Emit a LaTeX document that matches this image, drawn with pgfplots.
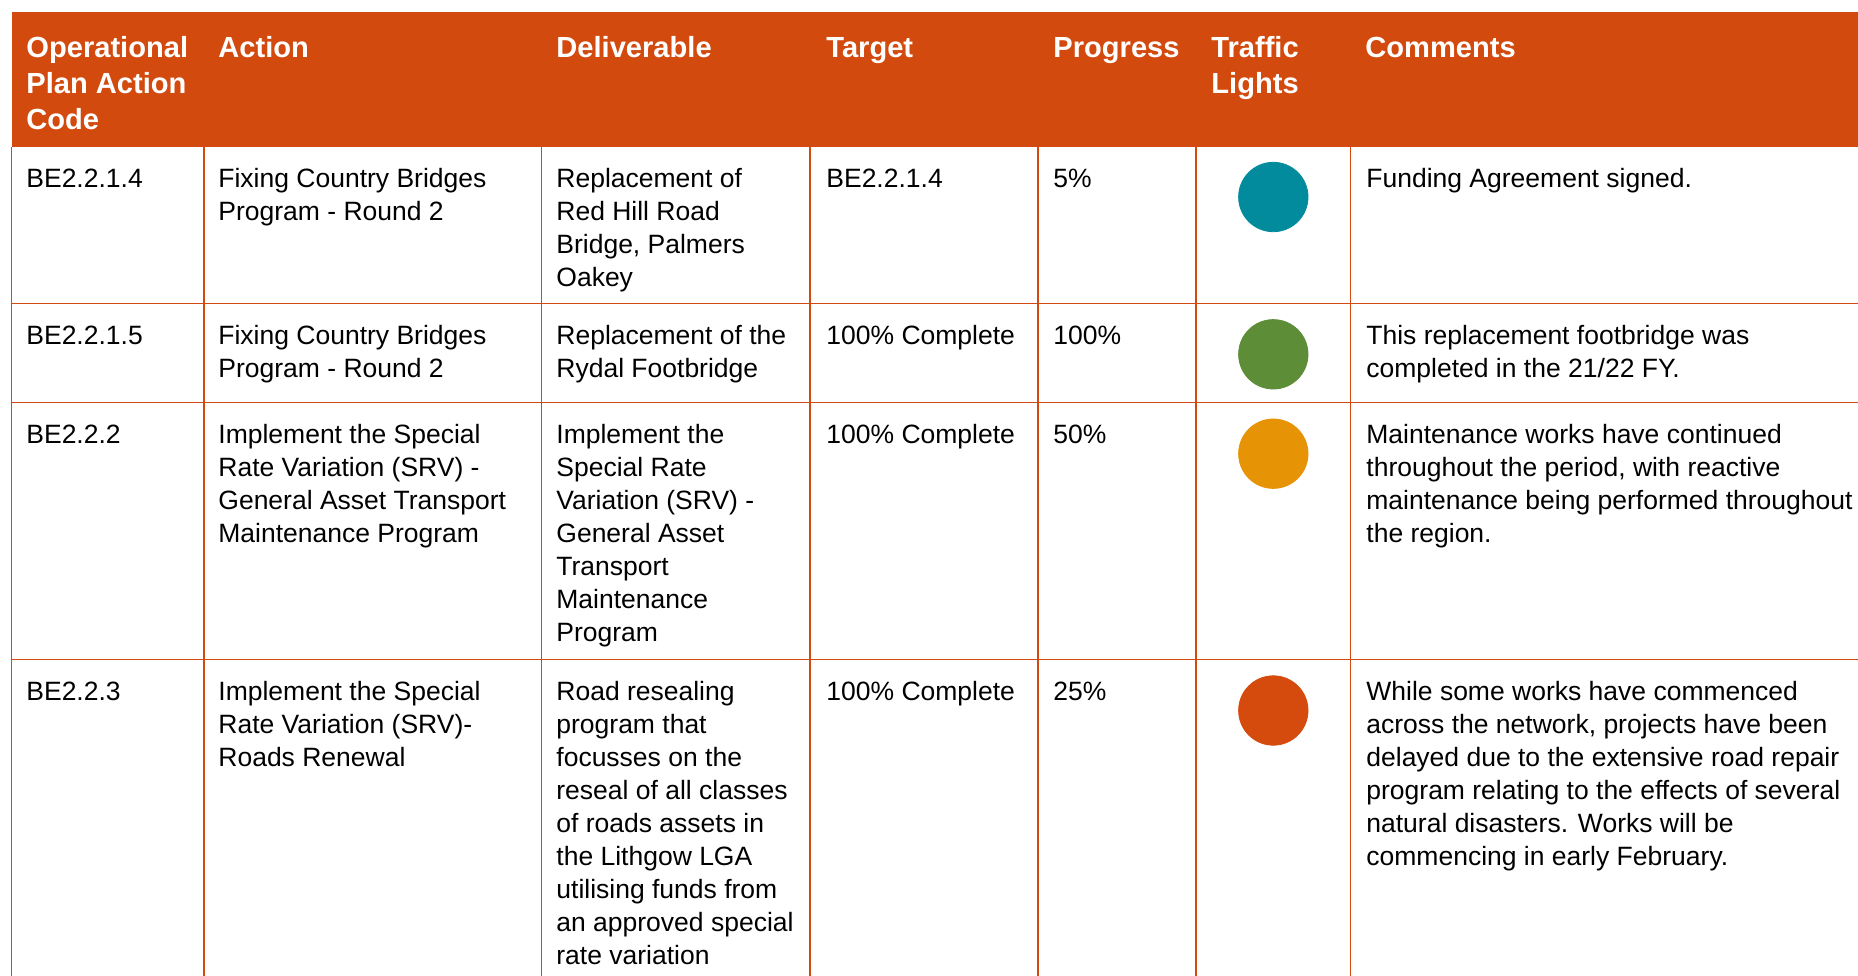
\documentclass[border=0pt]{standalone}
\usepackage{pgfplots}
\pgfplotsset{compat=1.18}
\usepackage{fontspec}
\setmainfont{Liberation Sans}
\definecolor{hdr}{HTML}{D34A0E}
\definecolor{lteal}{HTML}{028B9C}
\definecolor{lgreen}{HTML}{5E8D37}
\definecolor{lamber}{HTML}{E69306}
\definecolor{lred}{HTML}{D44B0D}
\newcommand\bodyfont{\fontsize{13.25pt}{16.5pt}\selectfont}
\newcommand\headfont{\fontsize{14.55pt}{18pt}\selectfont\bfseries}
\newcommand\cell[3]{\node[anchor=base west,inner sep=0pt,font=\bodyfont,text=black] at (axis cs:#1,#2) {\vtop{#3}};}
\newcommand\hcell[3]{\node[anchor=base west,inner sep=0pt,font=\headfont,text=white] at (axis cs:#1,#2) {\vtop{#3}};}
\begin{document}
\begin{tikzpicture}
\path[use as bounding box] (0,0) rectangle (929pt,487.5pt);
\clip (0,0) rectangle (929pt,487.5pt);
\begin{axis}[at={(0,0)},anchor=south west,width=929pt,height=487.5pt,scale only axis,
  xmin=0,xmax=1858,ymin=0,ymax=975,y dir=reverse,hide axis,clip=false]
% header band
\fill[hdr] (axis cs:11.5,12) rectangle (axis cs:1870,147);
% grid lines
\draw[hdr,line width=0.55pt] (axis cs:11.5,147) -- (axis cs:11.5,990);
\draw[hdr,line width=0.55pt] (axis cs:204,147) -- (axis cs:204,990);
\draw[hdr,line width=0.55pt] (axis cs:541.5,147) -- (axis cs:541.5,990);
\draw[hdr,line width=0.55pt] (axis cs:810,147) -- (axis cs:810,990);
\draw[hdr,line width=0.55pt] (axis cs:1038,147) -- (axis cs:1038,990);
\draw[hdr,line width=0.55pt] (axis cs:1196,147) -- (axis cs:1196,990);
\draw[hdr,line width=0.55pt] (axis cs:1350.3,147) -- (axis cs:1350.3,990);
\draw[hdr,line width=0.55pt] (axis cs:11.5,303.3) -- (axis cs:1870,303.3);
\draw[hdr,line width=0.55pt] (axis cs:11.5,402.4) -- (axis cs:1870,402.4);
\draw[hdr,line width=0.55pt] (axis cs:11.5,659.3) -- (axis cs:1870,659.3);
% traffic lights
\addplot[only marks,mark=*,mark size=17.35pt,color=lteal] coordinates {(1273.3,197)};
\addplot[only marks,mark=*,mark size=17.35pt,color=lgreen] coordinates {(1273.3,354.3)};
\addplot[only marks,mark=*,mark size=17.35pt,color=lamber] coordinates {(1273.3,453.7)};
\addplot[only marks,mark=*,mark size=17.35pt,color=lred] coordinates {(1273.3,710.5)};
% header text
\hcell{26}{57.5}{\hbox{Operational}\hbox{Plan Action}\hbox{Code}}
\hcell{218}{57.5}{\hbox{Action}}
\hcell{556}{57.5}{\hbox{Deliverable}}
\hcell{826}{57.5}{\hbox{Target}}
\hcell{1053}{57.5}{\hbox{Progress}}
\hcell{1211}{57.5}{\hbox{Traffic}\hbox{Lights}}
\hcell{1365}{57.5}{\hbox{Comments}}
% row 1
\cell{26}{187}{\hbox{BE2.2.1.4}}
\cell{218}{187}{\hbox{Fixing Country Bridges}\hbox{Program - Round 2}}
\cell{556}{187}{\hbox{Replacement of}\hbox{Red Hill Road}\hbox{Bridge, Palmers}\hbox{Oakey}}
\cell{826}{187}{\hbox{BE2.2.1.4}}
\cell{1053}{187}{\hbox{5\%}}
\cell{1366}{187}{\hbox{Funding Agreement signed.}}
% row 2
\cell{26}{344}{\hbox{BE2.2.1.5}}
\cell{218}{344}{\hbox{Fixing Country Bridges}\hbox{Program - Round 2}}
\cell{556}{344}{\hbox{Replacement of the}\hbox{Rydal Footbridge}}
\cell{826}{344}{\hbox{100\% Complete}}
\cell{1053}{344}{\hbox{100\%}}
\cell{1366}{344}{\hbox{This replacement footbridge was}\hbox{completed in the 21/22 FY.}}
% row 3
\cell{26}{443.5}{\hbox{BE2.2.2}}
\cell{218}{443.5}{\hbox{Implement the Special}\hbox{Rate Variation (SRV) -}\hbox{General Asset Transport}\hbox{Maintenance Program}}
\cell{556}{443.5}{\hbox{Implement the}\hbox{Special Rate}\hbox{Variation (SRV) -}\hbox{General Asset}\hbox{Transport}\hbox{Maintenance}\hbox{Program}}
\cell{826}{443.5}{\hbox{100\% Complete}}
\cell{1053}{443.5}{\hbox{50\%}}
\cell{1366}{443.5}{\hbox{Maintenance works have continued}\hbox{throughout the period, with reactive}\hbox{maintenance being performed throughout}\hbox{the region.}}
% row 4
\cell{26}{700}{\hbox{BE2.2.3}}
\cell{218}{700}{\hbox{Implement the Special}\hbox{Rate Variation (SRV)-}\hbox{Roads Renewal}}
\cell{556}{700}{\hbox{Road resealing}\hbox{program that}\hbox{focusses on the}\hbox{reseal of all classes}\hbox{of roads assets in}\hbox{the Lithgow LGA}\hbox{utilising funds from}\hbox{an approved special}\hbox{rate variation}}
\cell{826}{700}{\hbox{100\% Complete}}
\cell{1053}{700}{\hbox{25\%}}
\cell{1366}{700}{\hbox{While some works have commenced}\hbox{across the network, projects have been}\hbox{delayed due to the extensive road repair}\hbox{program relating to the effects of several}\hbox{natural disasters. Works will be}\hbox{commencing in early February.}}
\end{axis}
\end{tikzpicture}
\end{document}
